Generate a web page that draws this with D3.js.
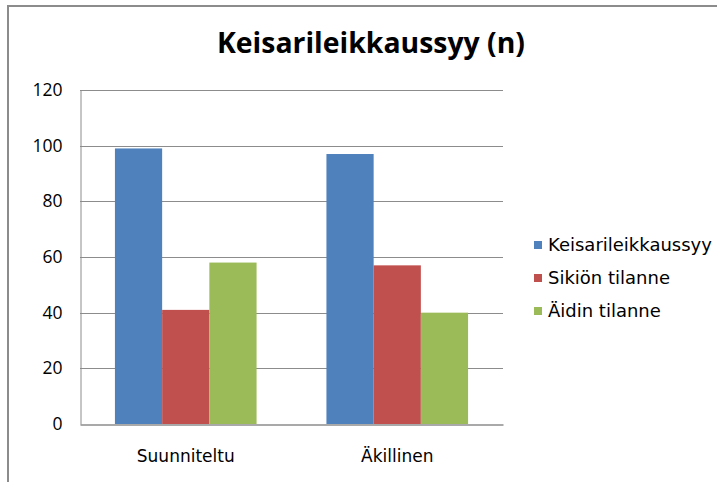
<!DOCTYPE html>
<html>
<head>
<meta charset="utf-8">
<script src="https://cdn.jsdelivr.net/npm/d3@7"></script>
<style>
  body { margin: 0; background: #fff; }
  svg { display: block; }
</style>
</head>
<body>
<div class="chart"></div>
<script>
var categories = ['Suunniteltu', 'Äkillinen']
var seriesNames = ['Keisarileikkaussyy', 'Sikiön tilanne', 'Äidin tilanne']
var seriesColors = ['#4f81bd', '#c0504d', '#9bbb59']
var keisarileikkaussyy = [99, 97]
var sikionTilanne = [41, 57]
var aidinTilanne = [58, 40]
var yTicks = [0, 20, 40, 60, 80, 100, 120]

var series = [keisarileikkaussyy, sikionTilanne, aidinTilanne]

var width = 717
var height = 482
var plot = { left: 80, right: 503, top: 90, bottom: 424 }

var svg = d3.select('.chart')
  .append('svg')
  .attr('width', width)
  .attr('height', height)

// chart frame (partly cut off like the screenshot)
svg.append('path')
  .attr('d', 'M8,' + height + 'V6H' + width)
  .attr('fill', 'none')
  .attr('stroke', '#8c8c8c')
  .attr('stroke-width', 2)

svg.append('text')
  .attr('x', 371)
  .attr('y', 53)
  .attr('text-anchor', 'middle')
  .attr('font-family', 'Open Sans, sans-serif')
  .attr('font-weight', 'bold')
  .attr('font-size', 28)
  .attr('textLength', 308)
  .attr('lengthAdjust', 'spacingAndGlyphs')
  .attr('fill', '#000')
  .text('Keisarileikkaussyy (n)')

var y = d3.scaleLinear()
  .domain([0, 120])
  .range([plot.bottom, plot.top])

var x0 = d3.scaleBand()
  .domain(categories)
  .range([plot.left, plot.right])

var x1 = d3.scaleBand()
  .domain(d3.range(seriesNames.length))
  .range([0, x0.bandwidth()])
  .paddingInner(0)
  .paddingOuter(0.74)

// gridlines
svg.append('g')
  .selectAll('line')
  .data(yTicks.filter(function(d) { return d > 0 }))
  .enter()
  .append('line')
  .attr('x1', plot.left)
  .attr('x2', plot.right)
  .attr('y1', function(d) { return Math.round(y(d)) + 0.5 })
  .attr('y2', function(d) { return Math.round(y(d)) + 0.5 })
  .attr('stroke', '#8c8c8c')
  .attr('stroke-width', 1)

// bars
var groups = svg.append('g')
  .selectAll('g')
  .data(categories)
  .enter()
  .append('g')
  .attr('transform', function(d) { return 'translate(' + x0(d) + ',0)' })

groups.selectAll('rect')
  .data(function(d, i) {
    return series.map(function(s, j) { return { s: j, v: s[i] } })
  })
  .enter()
  .append('rect')
  .attr('x', function(d) { return x1(d.s) })
  .attr('width', x1.bandwidth())
  .attr('y', function(d) { return y(d.v) })
  .attr('height', function(d) { return y(0) - y(d.v) })
  .attr('fill', function(d) { return seriesColors[d.s] })

// y axis
var yAxis = svg.append('g')
  .attr('transform', 'translate(' + (plot.left + 0.5) + ',0)')
  .call(d3.axisLeft(y).tickValues(yTicks).tickSize(0).tickPadding(18))
yAxis.select('.domain').attr('stroke', '#8c8c8c')
yAxis.selectAll('text')
  .attr('font-family', 'Open Sans, sans-serif')
  .attr('font-size', 17.5)
  .attr('fill', '#000')

// x axis
var xAxis = svg.append('g')
  .attr('transform', 'translate(0,' + (plot.bottom + 0.5) + ')')
  .call(d3.axisBottom(x0).tickSize(0))
xAxis.select('.domain').attr('stroke', '#8c8c8c').attr('stroke-width', 1.5)
xAxis.selectAll('text')
  .attr('y', 37)
  .attr('dy', 0)
  .attr('font-family', 'DejaVu Sans, sans-serif')
  .attr('font-size', 17)
  .attr('fill', '#000')

// legend
var legend = svg.append('g')
  .selectAll('g')
  .data(seriesNames)
  .enter()
  .append('g')
  .attr('transform', function(d, i) { return 'translate(534,' + (245 + i * 33) + ')' })

legend.append('rect')
  .attr('x', 0)
  .attr('y', -4)
  .attr('width', 8)
  .attr('height', 8)
  .attr('fill', function(d, i) { return seriesColors[i] })

legend.append('text')
  .attr('x', 14)
  .attr('dy', '0.36em')
  .attr('font-family', 'DejaVu Sans, sans-serif')
  .attr('font-size', 18)
  .attr('fill', '#000')
  .text(function(d) { return d })
</script>
</body>
</html>
